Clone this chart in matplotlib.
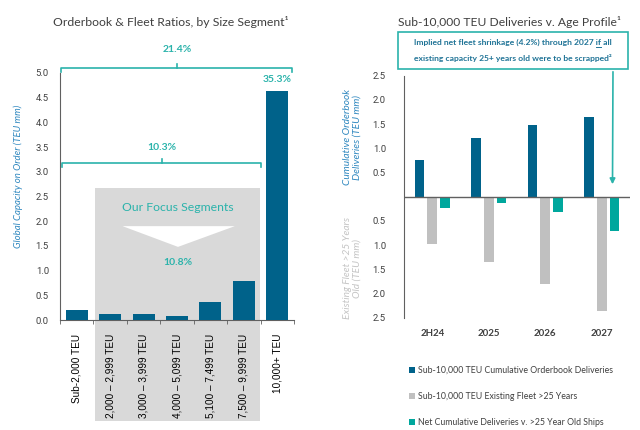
import matplotlib
matplotlib.use("Agg")
import matplotlib.pyplot as plt
from matplotlib.patches import Rectangle, Polygon
import matplotlib.transforms as mtransforms
import numpy as np

plt.rcParams['font.family'] = ['Lato', 'DejaVu Sans']

# left chart data
segments = ['Sub-2,000 TEU', '2,000 – 2,999 TEU', '3,000 – 3,999 TEU', '4,000 – 5,099 TEU',
            '5,100 – 7,499 TEU', '7,500 – 9,999 TEU', '10,000+ TEU']
orderbook = [0.21, 0.12, 0.13, 0.08, 0.36, 0.79, 4.64]

# right chart data
periods = ['2H24', '2025', '2026', '2027']
cum_deliveries = [0.76, 1.21, 1.48, 1.65]
fleet_over_25 = [0.98, 1.34, 1.81, 2.36]
net_deliveries = [0.23, 0.12, 0.32, 0.70]

DARK = '#00628a'
GREY = '#c0c0c0'
TEAL = '#00a79d'
TEAL_TXT = '#2bb3ab'
BLUE_LBL = '#2e87bf'
TXT = '#404040'
CALLOUT = '#1f7396'

fig = plt.figure(figsize=(6.4, 4.3), dpi=100)

def px(x, y):
    return x / 640, 1 - y / 430

# ---------- left chart ----------
ax1 = fig.add_axes([60/640, 1-320/430, 234/640, 247/430])
x1 = np.arange(len(segments))
ax1.bar(x1, orderbook, width=0.66, color=DARK, zorder=3)
ax1.set_xlim(-0.5, 6.5)
ax1.set_ylim(0, 5)
ax1.set_yticks(np.arange(0, 5.01, 0.5))
ax1.set_yticklabels([f'{v:.1f}' for v in np.arange(0, 5.01, 0.5)], fontsize=6.8,
                    family='Roboto', color=TXT)
ax1.tick_params(axis='y', length=0, pad=8)
ax1.set_xticks(x1)
ax1.set_xticklabels(segments, rotation=90, fontsize=7.2, family='Liberation Sans', color='black')
ax1.tick_params(axis='x', length=0, pad=10)
ax1.set_xticks(np.arange(-0.5, 6.6, 1), minor=True)
ax1.tick_params(axis='x', which='minor', length=3, color='#606060')
for s in ['top', 'right']:
    ax1.spines[s].set_visible(False)
ax1.spines['left'].set_color('#606060')
ax1.spines['bottom'].set_color('#606060')

# focus segments box
blend = mtransforms.blended_transform_factory(ax1.transData, ax1.transAxes)
ax1.add_patch(Rectangle((0.54, -0.41), 4.95, 0.944, transform=blend, facecolor='#d9d9d9',
                        edgecolor='none', clip_on=False, zorder=0))
ax1.text(3.02, 2.27, 'Our Focus Segments', ha='center', va='center', fontsize=8.8, color=TEAL_TXT, zorder=4)
ax1.add_patch(Polygon([(1.37, 1.9), (4.73, 1.9), (3.03, 1.48)], closed=True,
                      facecolor='white', edgecolor='none', zorder=4))
ax1.text(3.03, 1.17, '10.8%', ha='center', va='center', fontsize=7.5, fontweight='bold', color=TEAL_TXT)

def bracket(ax, x0, x1_, y, label, ly):
    kw = dict(color=TEAL_TXT, lw=1.2, clip_on=False)
    ax.plot([x0, x0, x1_, x1_], [y - 0.08, y, y, y - 0.08], **kw)
    xm = (x0 + x1_) / 2
    ax.plot([xm, xm], [y, y + 0.08], **kw)
    ax.text(xm, ly, label, ha='center', va='center', fontsize=7.5, fontweight='bold', color=TEAL_TXT)

bracket(ax1, -0.46, 6.45, 5.1, '21.4%', 5.47)
bracket(ax1, -0.44, 5.52, 3.18, '10.3%', 3.5)
ax1.text(6, 4.86, '35.3%', ha='center', va='center', fontsize=7.5, fontweight='bold', color=TEAL_TXT)

fig.text(*px(18, 176), 'Global Capacity on Order (TEU mm)', rotation=90, ha='center', va='center',
         fontsize=6.9, style='italic', color=BLUE_LBL)
fig.text(*px(171, 22), 'Orderbook & Fleet Ratios, by Size Segment¹', ha='center', va='center',
         fontsize=8.8, color=TXT)

# ---------- right chart ----------
ax2 = fig.add_axes([404/640, 1-317.7/430, 226/640, 242/430])
x2 = np.arange(len(periods))
w, off = 0.17, 0.225
b1 = ax2.bar(x2 - off, cum_deliveries, width=w, color=DARK, zorder=3)
b2 = ax2.bar(x2, [-v for v in fleet_over_25], width=w, color=GREY, zorder=3)
b3 = ax2.bar(x2 + off, [-v for v in net_deliveries], width=w, color=TEAL, zorder=3)
ax2.axhline(0, color='#606060', lw=1, zorder=4)
ax2.set_xlim(-0.5, 3.5)
ax2.set_ylim(-2.5, 2.5)
yt = [-2.5, -2, -1.5, -1, -0.5, 0.5, 1, 1.5, 2, 2.5]
ax2.set_yticks(yt)
ax2.set_yticklabels([f'{abs(v):.1f}' for v in yt], fontsize=6.8, family='Roboto', color=TXT)
ax2.tick_params(axis='y', length=0, pad=13)
ax2.set_xticks(x2)
ax2.set_xticklabels(periods, fontsize=7, fontweight='bold', color=TXT)
ax2.tick_params(axis='x', length=0, pad=8)
for s in ['top', 'right', 'bottom']:
    ax2.spines[s].set_visible(False)
ax2.spines['left'].set_color('#606060')

fig.text(*px(352, 137), 'Cumulative Orderbook\nDeliveries (TEU mm)', rotation=90, ha='center',
         va='center', fontsize=7.3, style='italic', color=BLUE_LBL, linespacing=1.1)
fig.text(*px(352, 268), 'Existing Fleet >25 Years\nOld (TEU mm)', rotation=90, ha='center',
         va='center', fontsize=7.3, style='italic', color='#c4c4c4', linespacing=1.1)
fig.text(*px(510, 22), 'Sub-10,000 TEU Deliveries v. Age Profile¹', ha='center', va='center',
         fontsize=8.7, color=TXT)

# callout box + arrow
fig.patches.append(Rectangle(px(398, 69), 230/640, 37/430, transform=fig.transFigure,
                             facecolor='white', edgecolor=TEAL_TXT, lw=1.2))
line1 = 'Implied net fleet shrinkage (4.2%) through 2027 if all'
line2 = 'existing capacity 25+ years old were to be scrapped²'
tkw = dict(fontsize=6.1, fontweight='bold', color=CALLOUT, va='baseline')
t1 = fig.text(*px(513, 45), line1, ha='center', **tkw)
fig.text(*px(513, 61), line2, ha='center', **tkw)

# underline "if" by measuring the text
fig.canvas.draw()
r = fig.canvas.get_renderer()
bb = t1.get_window_extent(r)
pre = fig.text(0, 0, 'Implied net fleet shrinkage (4.2%) through 2027 ', **tkw)
pre_w = pre.get_window_extent(r).width
wif = fig.text(0, 0, 'if', **tkw)
if_w = wif.get_window_extent(r).width
pre.remove()
wif.remove()
ux0 = (bb.x0 + pre_w) / fig.bbox.width
ux1 = (bb.x0 + pre_w + if_w) / fig.bbox.width
uy = 1 - 46.5 / 430
fig.add_artist(plt.Line2D([ux0, ux1], [uy, uy], color=CALLOUT, lw=0.7))

ax2.annotate('', xy=(3.19, 0.2), xycoords='data', xytext=px(613, 69), textcoords='figure fraction',
             arrowprops=dict(arrowstyle='-|>', color=TEAL_TXT, lw=1.2, mutation_scale=8))

fig.legend([b1, b2, b3],
           ['Sub-10,000 TEU Cumulative Orderbook Deliveries', 'Sub-10,000 TEU Existing Fleet >25 Years',
            'Net Cumulative Deliveries v. >25 Year Old Ships'],
           loc='upper left', bbox_to_anchor=px(401, 358), frameon=False, fontsize=6.3,
           handlelength=0.7, handleheight=0.7, handletextpad=0.4, labelspacing=1.95, labelcolor=TXT)

fig.savefig('out.png', dpi=100)
